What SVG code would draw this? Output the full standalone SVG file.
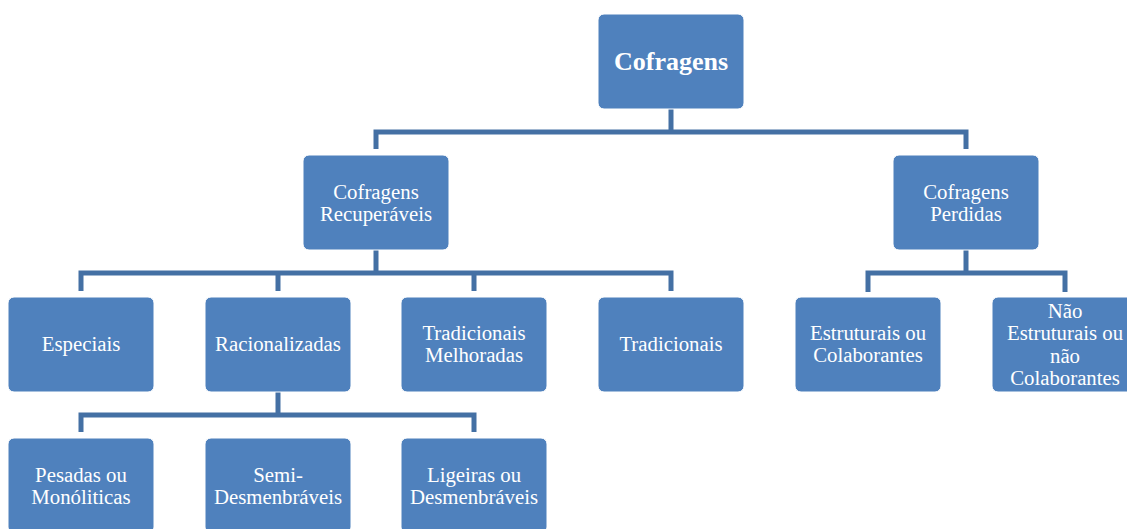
<svg xmlns="http://www.w3.org/2000/svg" width="1127" height="529" viewBox="0 0 1127 529">
<style>
.box{fill:#4F81BD;stroke:#FFFFFF;stroke-width:1}
.t{font-family:"Liberation Serif","Times New Roman",serif;font-size:20.8px;fill:#FFFFFF;text-anchor:middle}
.b{font-weight:bold;font-size:26px}
.c{fill:none;stroke:#4470A4;stroke-width:5;stroke-linejoin:miter}
</style>
<rect width="1127" height="529" fill="#FFFFFF"/>
<g id="connectors">
<path class="c" d="M671,109 V132 M376,149 V132 H966 V149"/>
<path class="c" d="M376,250 V273 M81,291 V273 H671 V291 M278,273 V291 M474,273 V291"/>
<path class="c" d="M966,250 V273 M868,292 V273 H1065 V292"/>
<path class="c" d="M278,391 V415 M81,432 V415 H474 V432"/>
</g>
<g id="n-cofragens"><rect class="box" x="598" y="14" width="146" height="95" rx="6"/><text class="t b" x="671" y="70">Cofragens</text></g>
<g id="n-recuperaveis"><rect class="box" x="303" y="155" width="146" height="95" rx="6"/><text class="t" x="376" y="199">Cofragens</text><text class="t" x="376" y="221">Recuperáveis</text></g>
<g id="n-perdidas"><rect class="box" x="893" y="155" width="146" height="95" rx="6"/><text class="t" x="966" y="199">Cofragens</text><text class="t" x="966" y="221">Perdidas</text></g>
<g id="n-especiais"><rect class="box" x="8" y="297" width="146" height="95" rx="6"/><text class="t" x="81" y="351">Especiais</text></g>
<g id="n-racionalizadas"><rect class="box" x="205" y="297" width="146" height="95" rx="6"/><text class="t" x="278" y="351">Racionalizadas</text></g>
<g id="n-trad-melhoradas"><rect class="box" x="401" y="297" width="146" height="95" rx="6"/><text class="t" x="474" y="340">Tradicionais</text><text class="t" x="474" y="362">Melhoradas</text></g>
<g id="n-tradicionais"><rect class="box" x="598" y="297" width="146" height="95" rx="6"/><text class="t" x="671" y="351">Tradicionais</text></g>
<g id="n-estruturais"><rect class="box" x="795" y="297" width="146" height="95" rx="6"/><text class="t" x="868" y="340">Estruturais ou</text><text class="t" x="868" y="362">Colaborantes</text></g>
<g id="n-nao-estruturais"><rect class="box" x="992" y="297" width="146" height="95" rx="6"/><text class="t" x="1065" y="318">Não</text><text class="t" x="1065" y="340">Estruturais ou</text><text class="t" x="1065" y="363">não</text><text class="t" x="1065" y="385">Colaborantes</text></g>
<g id="n-pesadas"><rect class="box" x="8" y="438" width="146" height="95" rx="6"/><text class="t" x="81" y="482">Pesadas ou</text><text class="t" x="81" y="504">Monóliticas</text></g>
<g id="n-semi"><rect class="box" x="205" y="438" width="146" height="95" rx="6"/><text class="t" x="278" y="482">Semi-</text><text class="t" x="278" y="504">Desmenbráveis</text></g>
<g id="n-ligeiras"><rect class="box" x="401" y="438" width="146" height="95" rx="6"/><text class="t" x="474" y="482">Ligeiras ou</text><text class="t" x="474" y="504">Desmenbráveis</text></g>
</svg>
